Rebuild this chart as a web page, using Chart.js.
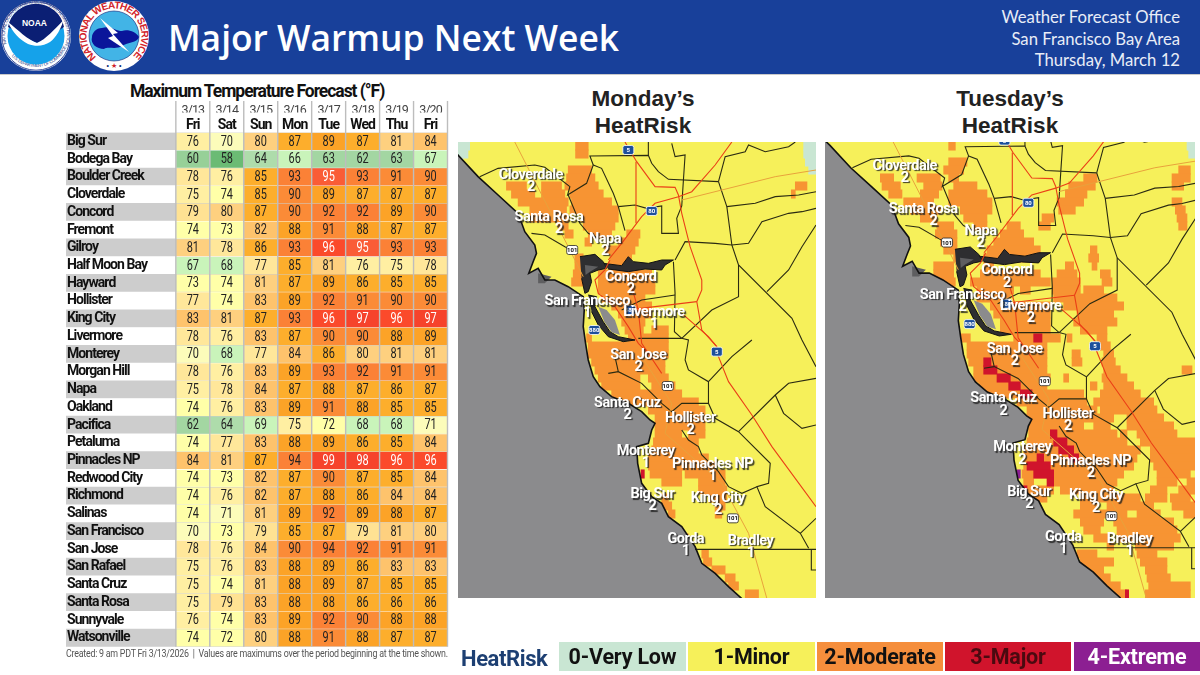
<!DOCTYPE html>
<html>
<head>
<meta charset="utf-8">
<title>Major Warmup Next Week</title>
<script src="https://cdn.jsdelivr.net/npm/chart.js@4"></script>
<style>
  html, body { margin: 0; padding: 0; background: #fff; }
  body { width: 1200px; height: 675px; position: relative; overflow: hidden; }
  .abs { position: absolute; white-space: nowrap; }
  canvas { position: absolute; }
  #banner { left: 0; top: 0; width: 1200px; height: 74px; background: #18409a; border-bottom: 1px solid #c9c9c9; }
  #headline { left: 168px; top: 13px; font: 600 35.4px/48px "Open Sans"; color: #fff; }
  .office { right: 20px; font: 400 16.7px/20px Lato; color: #e8edf7; }
  .mapTitle { width: 300px; text-align: center; font: 700 22.5px/27px "Liberation Sans"; color: #222; }
  #tableTitle { left: 130px; top: 81px; font: 700 17.5px/20px Roboto; letter-spacing: -1.05px; color: #111; }
  #footnote { left: 66px; top: 647px; font: 400 10.2px/13px Roboto; letter-spacing: -0.27px; color: #555; transform: scaleX(0.87); transform-origin: left top; }
  #riskWord { left: 461px; top: 645px; font: 700 22px/28px Roboto; letter-spacing: -0.4px; color: #1d3f72; }
  .riskBox { top: 642px; height: 29px; text-align: center; font: 700 21.5px/29px Roboto; letter-spacing: -0.2px; }
</style>
</head>
<body>
<div class="abs" id="banner"></div>
<svg class="abs" style="left:0;top:0" width="155" height="74" viewBox="0 0 155 74">
  <defs>
    <path id="noaaTop" d="M6.5,44 A31,31 0 1 1 65.5,44"/>
    <path id="noaaLow" d="M4,42 A33,33 0 0 0 68,42"/>
    <path id="nwsRing" d="M96.3,57 A27.5,27.5 0 1 1 131.7,57"/>
  </defs>
  <circle cx="36" cy="36" r="35" fill="#fff"/>
  <circle cx="36" cy="36" r="34.2" fill="none" stroke="#3b4f9c" stroke-width="1"/>
  <text font-family="Liberation Sans" font-size="4.6" fill="#26367e"><textPath href="#noaaTop" textLength="118">NATIONAL OCEANIC AND ATMOSPHERIC ADMINISTRATION</textPath></text>
  <text font-family="Liberation Sans" font-size="4.4" fill="#26367e"><textPath href="#noaaLow" startOffset="16" textLength="66">U.S. DEPARTMENT OF COMMERCE</textPath></text>
  <circle cx="36" cy="36" r="28.5" fill="#15a2ea"/>
  <path d="M8,27 A28.5,28.5 0 0 1 64,27 C56,32 46,40 37,43 C28,40 17,31 8,27Z" fill="#0b1f74"/>
  <path d="M8,22 C18,30 28,40 37,43 C46,39 54,30 63.5,20 C60,33 52,41 50,42 C44,46 36,47 28,44 C20,40 12,32 8,22Z" fill="#fff"/>
  <text x="34.5" y="26" text-anchor="middle" font-family="Liberation Sans" font-weight="700" font-size="8.5" fill="#fff">NOAA</text>

  <circle cx="114" cy="36" r="35" fill="#fff"/>
  <text font-family="Liberation Sans" font-weight="700" font-size="10" fill="#d2232a"><textPath href="#nwsRing" textLength="132">NATIONAL WEATHER SERVICE</textPath></text>
  <circle cx="114" cy="36" r="25" fill="#42b4e6" stroke="#0b1f74" stroke-width=".6"/>
  <path d="M92,37 C92,33 96,28 102,28 C110,25 116,31 122,31 C128,29 136,32 139,37 C137,43 128,42 122,46 C116,50 108,46 104,49 C97,49 90,44 92,37Z" fill="#0a159a"/>
  <path d="M100,18 L118,33 L113,34 L129,52 L108,38 L113,36Z" fill="#fff"/>
  <text x="114" y="68" text-anchor="middle" font-family="Liberation Sans" font-size="7"><tspan fill="#0b1f74">&#8226;</tspan> <tspan fill="#d2232a">&#9733;</tspan> <tspan fill="#0b1f74">&#8226;</tspan></text>
</svg>
<div class="abs" id="headline">Major Warmup Next Week</div>
<div class="abs office" style="top:7px">Weather Forecast Office</div>
<div class="abs office" style="top:29px">San Francisco Bay Area</div>
<div class="abs office" style="top:50px">Thursday, March 12</div>

<div class="abs" id="tableTitle">Maximum Temperature Forecast (&deg;F)</div>
<canvas id="tempTable" style="left:60px;top:80px;width:395px;height:585px"></canvas>
<div class="abs" id="footnote">Created: 9 am PDT Fri 3/13/2026&nbsp; |&nbsp; Values are maximums over the period beginning at the time shown.</div>

<div class="abs mapTitle" style="left:493px;top:85px">Monday&rsquo;s<br>HeatRisk</div>
<div class="abs mapTitle" style="left:860px;top:85px">Tuesday&rsquo;s<br>HeatRisk</div>
<div style="position:absolute;left:458px;top:142px;width:358px;height:456px"><canvas id="mondayMap"></canvas></div>
<div style="position:absolute;left:825px;top:142px;width:370px;height:456px"><canvas id="tuesdayMap"></canvas></div>

<div class="abs" id="riskWord">HeatRisk</div>
<div class="abs riskBox" style="left:559px;width:127px;background:#c9e6d3;color:#111">0-Very Low</div>
<div class="abs riskBox" style="left:688px;width:127px;background:#f6f05a;color:#111">1-Minor</div>
<div class="abs riskBox" style="left:817px;width:126px;background:#f58e3c;color:#111">2-Moderate</div>
<div class="abs riskBox" style="left:945px;width:126px;background:#d0142c;color:#4a0a10">3-Major</div>
<div class="abs riskBox" style="left:1074px;width:126px;background:#8c1f92;color:#fff">4-Extreme</div>

<script>
// table data
var dates = ['3/13','3/14','3/15','3/16','3/17','3/18','3/19','3/20'];
var days = ['Fri','Sat','Sun','Mon','Tue','Wed','Thu','Fri'];
var cities = ['Big Sur','Bodega Bay','Boulder Creek','Cloverdale','Concord','Fremont','Gilroy','Half Moon Bay','Hayward','Hollister','King City','Livermore','Monterey','Morgan Hill','Napa','Oakland','Pacifica','Petaluma','Pinnacles NP','Redwood City','Richmond','Salinas','San Francisco','San Jose','San Rafael','Santa Cruz','Santa Rosa','Sunnyvale','Watsonville'];
var temps = [
  [76,70,80,87,89,87,81,84],
  [60,58,64,66,63,62,63,67],
  [78,76,85,93,95,93,91,90],
  [75,74,85,90,89,87,87,87],
  [79,80,87,90,92,92,89,90],
  [74,73,82,88,91,88,87,87],
  [81,78,86,93,96,95,93,93],
  [67,68,77,85,81,76,75,78],
  [73,74,81,87,89,86,85,85],
  [77,74,83,89,92,91,90,90],
  [83,81,87,93,96,97,96,97],
  [78,76,83,87,90,90,88,89],
  [70,68,77,84,86,80,81,81],
  [78,76,83,89,93,92,91,91],
  [75,78,84,87,88,87,86,87],
  [74,76,83,89,91,88,85,85],
  [62,64,69,75,72,68,68,71],
  [74,77,83,88,89,86,85,84],
  [84,81,87,94,99,98,96,96],
  [74,73,82,87,90,87,85,84],
  [74,76,82,87,88,86,84,84],
  [74,71,81,89,92,89,88,87],
  [70,73,79,85,87,79,81,80],
  [78,76,84,90,94,92,91,91],
  [75,76,83,88,89,86,83,83],
  [75,74,81,88,89,87,85,85],
  [75,79,83,88,88,86,86,86],
  [76,74,83,89,92,90,88,88],
  [74,72,80,88,91,88,87,87]
];
var tempStops = [58,60,63,65,69,71,74,76,78,79,81,84,87,89,91,94,95,96,99];
var tempColors = ['#6bbb74','#97d098','#a3d6a2','#aedcab','#c9f4ba','#fcfcba','#ffffa8','#ffefa2','#ffe79a','#ffe293','#fed07f','#fec36c','#fdae2c','#fca327','#fb8b37','#fb8136','#fa5c36','#fb4a2b','#f6432c'];

// heatrisk cells per row of the map grid: [row, from, to, from, to...]
var mondayVeryLow = [[0,10,45,1045,1082],[1,10,40,1045,1082],[2,10,25,1050,1082],[3,1060,1082]];
var mondayModerate = [
  [0,362,400],[1,362,400],[3,340,410],[4,335,420],[5,155,215,260,320,330,430,1020,1055],[6,170,240,260,330,345,445,1008,1020],
  [7,190,340,350,470],[8,225,335,345,490],[9,225,340,380,490],[10,310,340,385,480],[11,330,355,400,470,515,555],[12,390,410,490,550],
  [13,450,540],[14,360,385,465,530],[15,360,385,460,520],[16,355,395,430,590],[17,350,385,430,600],[18,430,600],[19,440,570],
  [20,470,590],[21,490,590],[22,500,570],[23,510,565,590,640],[24,395,410,520,640],[25,400,640],[26,400,640],[27,410,630],[28,420,630],
  [29,430,555,580,640],[30,440,555,590,660],[31,470,680],[32,500,730],[33,580,750],[34,600,750],[35,600,750],[36,600,680,700,750],
  [37,595,730],[38,590,730],[39,580,760],[40,580,780],[41,585,680,690,810],[42,620,680,730,810],[43,730,815],[44,620,640,760,815],
  [45,620,650,780,810],[46,640,660,780,800],[49,690,700],[51,740,760],[52,745,770],[53,770,810],[54,810,840],[55,820,850],[56,870,910]
];
var mondayMajor = [[41,558,568]];
var mondayExtreme = [];

var tuesdayVeryLow = [[0,1100,1124],[1,1105,1124]];
var tuesdayModerate = [
  [0,385,405],[2,385,440],[3,370,430,1075,1110],[4,180,220,290,360,385,415,790,830,1055,1110],[5,185,240,310,365,400,470,745,825,1055,1090],
  [6,205,245,300,355,385,500,735,800],[7,250,340,385,515,710,790,1055,1085],[8,270,360,420,515,715,765,1065,1095],[9,300,350,430,500,665,700,1070,1100],
  [10,350,400,460,500,560,600,655,690,1075,1100],[11,345,410,540,610],[12,360,410,520,640],[13,370,410,500,660,810,830],[14,400,420,490,540,570,640,805,835],
  [15,340,400,490,520,735,760,815,830],[16,340,400,480,660,710,770,840,870],[17,345,405,450,690,695,780,845,875],[18,370,400,470,580,600,630,695,780,790,850],
  [19,470,570,700,890],[20,510,690,730,910],[21,520,690,770,880],[22,540,690,760,890],[23,540,690,780,860],[24,400,450,580,720,740,755,830,860],
  [25,440,680,840,870],[26,440,680,755,780,850,880],[27,445,680,755,785,845,885],[28,460,680,850,900,1085,1115],[29,460,690,730,745,845,920],
  [30,475,680,810,830,850,940],[31,490,790,840,960],[32,590,800,820,1000],[33,620,830,840,1010],[34,620,880,920,1030],[35,625,790,820,870,920,1060],
  [36,625,890,900,920,950,1070],[37,620,920,960,1124],[38,610,960,990,1124],[39,610,950,990,1124],[40,610,940,1000,1124],[41,605,910,1010,1110],
  [42,610,640,700,890,1010,1070,1100,1124],[43,620,700,720,880,990,1040,1075,1124],[44,640,680,780,960,975,1040,1050,1110],[45,780,830,860,1000,1055,1124],
  [46,760,920,950,1020,1090,1124],[47,780,850,880,1060],[48,790,840,890,1070],[49,820,870,890,1080],[50,860,880,945,1060],[51,770,830,950,1010],
  [52,780,880,960,1040],[53,800,850,975,1040],[54,820,870,980,1050],[55,840,900,985,1110],[56,880,920,975,1110]
];
var tuesdayMajor = [
  [24,640,665],[27,490,512],[28,490,530],[29,530,570],[30,565,600],[31,600,635],[36,690,710],[37,700,740],[38,715,760],
  [39,650,670,745,775],[40,620,690],[41,640,700],[42,680,700],[43,605,620],[56,915,925]
];
var tuesdayExtreme = [[41,590,600]];

// geography in map units
var coast = [[-20,195],[10,225],[70,290],[130,345],[190,400],[210,455],[240,495],[245,520],[235,545],[222,580],[250,565],[270,600],[300,600],[340,620],[385,650],[388,690],[385,740],[392,790],[400,840],[415,890],[435,920],[470,950],[520,970],[560,995],[585,1020],[600,1030],[590,1050],[580,1090],[545,1100],[548,1150],[560,1210],[590,1250],[620,1270],[640,1310],[680,1340],[720,1400],[740,1450],[780,1480],[820,1520],[860,1556]];
var oceanCorner = [[-20,1556]];
var bays = [
  [[375,530],[420,523],[445,545],[455,565],[430,570],[405,580],[410,605],[400,635],[390,640],[380,595]],
  [[445,550],[500,557],[520,530],[535,545],[580,550],[620,540],[655,540],[630,555],[620,570],[570,567],[520,575],[460,567]],
  [[400,645],[425,650],[420,680],[445,725],[465,755],[490,770],[540,780],[505,785],[460,770],[430,735],[410,695]]
];
var northBayShallow = [[390,555],[430,560],[405,575],[392,585]];
var southBay = [[430,680],[455,690],[480,720],[495,765],[470,757],[448,725]];
var offshoreShade = [[250,580],[290,590],[270,610],[250,610]];
var countyLines = [
  [[75,290],[130,265],[240,255],[270,262],[345,320],[338,345],[395,310],[415,255],[440,265],[475,340],[490,380],[510,452]],
  [[415,255],[405,228],[580,226],[590,250],[610,275],[640,298],[790,305]],
  [[580,186],[580,226]],
  [[650,190],[660,230],[690,225],[685,300]],
  [[790,305],[810,230],[870,215],[880,195],[930,215],[1000,200],[1020,186]],
  [[790,305],[815,380],[830,495],[850,555],[1010,715],[1040,780],[1082,860]],
  [[815,380],[900,370],[960,350],[1030,345],[1082,335]],
  [[830,495],[880,490],[920,425],[1000,400],[1040,395],[1082,385]],
  [[1082,435],[1040,500],[1000,570],[935,635]],
  [[850,555],[850,650],[770,690],[680,775]],
  [[655,545],[660,640],[658,755],[680,775],[700,780],[690,840],[700,870],[760,905],[760,970],[780,1015],[850,1055],[945,1150],[940,1210],[905,1220],[930,1280],[1035,1360],[1060,1405]],
  [[660,540],[690,485],[780,490],[830,495]],
  [[490,380],[540,375],[575,385],[620,378],[620,460],[670,460],[665,415],[680,378],[685,300]],
  [[340,345],[375,430],[400,460],[430,475]],
  [[230,460],[270,465],[330,500],[350,510]],
  [[500,690],[560,660],[660,645]],
  [[550,775],[680,775]],
  [[460,880],[490,875],[560,910],[620,970],[650,995],[680,970],[760,970]],
  [[480,830],[490,875]],
  [[760,905],[830,830],[890,780]],
  [[850,1055],[960,945],[1000,910],[1082,895]],
  [[960,945],[985,1000],[1040,1045],[1082,1035]],
  [[1035,1360],[1082,1315]],
  [[720,1408],[1082,1408]],
  [[1068,1408],[1068,1470],[1082,1470]],
  [[680,1050],[700,1080],[730,1100],[740,1125],[790,1175],[820,1220],[860,1240],[905,1220]]
];
var mainRoads = [
  [[510,186],[545,245],[600,320],[660,322],[670,345],[680,400],[705,500],[740,600],[740,630],[725,665],[740,750],[785,800],[790,830],[820,905],[890,1005],[950,1100],[1082,1280]],
  [[543,245],[543,430]],
  [[830,186],[780,255],[710,335],[670,350],[600,370],[560,410],[500,490],[460,540]],
  [[465,540],[450,570],[420,600],[430,640],[480,680],[520,740],[550,790],[590,830]],
  [[530,620],[550,690],[560,790],[620,880]],
  [[515,690],[600,680],[725,665]],
  [[680,700],[760,770],[785,800]]
];
var minorRoads = [
  [[180,186],[340,500],[385,590]],
  [[680,360],[960,290],[1082,270]],
  [[560,830],[650,970],[630,1060],[800,1210],[880,1360],[935,1556]]
];

var placeNames = ['Cloverdale','Santa Rosa','Napa','Concord','San Francisco','Livermore','San Jose','Santa Cruz','Hollister','Monterey','Pinnacles NP','Big Sur','King City','Gorda','Bradley'];
var placeX = [228,282,450,527,397,597,550,517,706,572,772,592,788,692,886];
var placeY = [285,413,477,593,665,698,825,970,1015,1114,1154,1244,1255,1378,1384];
var riskX = [228,312,450,527,397,597,550,517,706,572,772,592,788,692,886];
var mondayRisk = [2,2,2,2,1,1,2,2,2,1,1,2,2,1,1];
var tuesdayRisk = [2,2,2,2,2,2,2,2,2,2,2,2,2,1,1];

var shieldX = [520,590,352,525,418,785,638,833];
var shieldY = [210,393,510,690,750,815,918,1315];
var shieldText = ['5','80','101','580','880','5','101','101'];

function tempColor(t) {
  for (var i = 0; i < tempStops.length; i++) {
    if (t <= tempStops[i]) return tempColors[i];
  }
  return tempColors[tempColors.length - 1];
}

// ---- the forecast table ----
var tableLeft = -3.235;
var rowHeight = 514.2 / 29;

var stripeData = cities.map(function(c, r) { return {x: [tableLeft, 8], y: r + 0.5}; });
var cellData = [];
temps.forEach(function(row, r) {
  row.forEach(function(t, d) {
    cellData.push({x: [d + 0.02, d + 0.98], y: r + 0.5, t: t});
  });
});

var columnCenters = dates.map(function(d, i) { return i + 0.5; });
var rowCenters = cities.map(function(c, i) { return i + 0.5; });

var tablePlugin = {
  id: 'tablePlugin',
  beforeDraw: function(chart) {
    // no condensed font here, so squeeze the letters
    chart.ctx.letterSpacing = '-0.95px';
  },
  afterDatasetsDraw: function(chart) {
    var ctx = chart.ctx;
    var x = chart.scales.x;
    ctx.save();
    ctx.strokeStyle = '#bdbdbd';
    ctx.lineWidth = 1.4;
    for (var d = 0; d <= 8; d++) {
      var px = x.getPixelForValue(d);
      ctx.beginPath();
      ctx.moveTo(px, 21);
      ctx.lineTo(px, chart.chartArea.bottom);
      ctx.stroke();
    }
    // values inside the cells
    var meta = chart.getDatasetMeta(0);
    ctx.font = '14px Roboto';
    ctx.letterSpacing = '0px';
    ctx.textAlign = 'center';
    ctx.textBaseline = 'middle';
    meta.data.forEach(function(el, i) {
      var t = cellData[i].t;
      var c = el.getCenterPoint();
      ctx.save();
      ctx.translate(c.x, c.y + 0.7);
      ctx.scale(0.78, 1);
      ctx.fillStyle = t >= 95 ? '#fff' : '#222';
      ctx.fillText(t, 0, 0);
      ctx.restore();
    });
    ctx.restore();
  }
};

new Chart(document.getElementById('tempTable'), {
  type: 'bar',
  data: {
    datasets: [
      {
        data: cellData,
        backgroundColor: cellData.map(function(c) { return tempColor(c.t); }),
        barThickness: rowHeight - 1.2,
        grouped: false,
        order: 1
      },
      {
        data: stripeData,
        backgroundColor: stripeData.map(function(s, r) { return r % 2 == 0 ? '#cdcdcd' : '#ffffff'; }),
        barThickness: rowHeight,
        grouped: false,
        order: 2
      }
    ]
  },
  plugins: [tablePlugin],
  options: {
    indexAxis: 'y',
    responsive: false,
    animation: false,
    events: [],
    layout: {padding: {left: 6, right: 7.5, top: 0, bottom: 18.3}},
    plugins: {legend: {display: false}, tooltip: {enabled: false}},
    scales: {
      x: {
        type: 'linear', position: 'top', min: tableLeft, max: 8, weight: 0,
        grid: {display: false}, border: {display: false},
        afterBuildTicks: function(s) { s.ticks = columnCenters.map(function(v) { return {value: v}; }); },
        afterFit: function(s) { s.height = 20; },
        ticks: {
          autoSkip: false, maxRotation: 0, padding: -9.6,
          color: '#111', font: {family: 'Roboto', size: 14, weight: '700'},
          callback: function(v, i) { return days[i]; }
        }
      },
      xDate: {
        type: 'linear', position: 'top', min: tableLeft, max: 8, weight: 1,
        grid: {display: false}, border: {display: false},
        afterBuildTicks: function(s) { s.ticks = columnCenters.map(function(v) { return {value: v}; }); },
        afterFit: function(s) { s.height = 32.5; },
        ticks: {
          autoSkip: false, maxRotation: 0, padding: -14,
          color: '#444', font: {family: 'Roboto', size: 12.5},
          callback: function(v, i) { return dates[i]; }
        }
      },
      y: {
        type: 'linear', min: 0, max: cities.length, reverse: true, offset: false,
        grid: {display: false}, border: {display: false},
        afterBuildTicks: function(s) { s.ticks = rowCenters.map(function(v) { return {value: v}; }); },
        afterFit: function(s) { s.width = 0; },
        ticks: {
          mirror: true, z: 2, padding: 1, autoSkip: false,
          color: '#111', font: {family: 'Roboto', size: 14, weight: '700'},
          callback: function(v, i) { return cities[i]; }
        }
      }
    }
  }
});

// ---- the two heatrisk maps ----
function toPoints(list) {
  return list.map(function(p) { return {x: p[0], y: p[1]}; });
}

function cellBars(rows) {
  var out = [];
  rows.forEach(function(r) {
    for (var i = 1; i < r.length; i += 2) {
      out.push({x: [r[i], r[i + 1]], y: r[0] + 0.5});
    }
  });
  return out;
}

function cellDataset(rows, color, order) {
  return {
    type: 'bar', indexAxis: 'y', xAxisID: 'xCell', yAxisID: 'yRow', grouped: false,
    data: cellBars(rows), backgroundColor: color, barThickness: 8.4, order: order
  };
}

function geoDataset(list, opts) {
  var ds = {
    type: 'scatter', showLine: true, xAxisID: 'xGeo', yAxisID: 'yGeo',
    data: toPoints(list), pointRadius: 0, borderWidth: 1, fill: false, tension: 0
  };
  Object.keys(opts).forEach(function(k) { ds[k] = opts[k]; });
  return ds;
}

var mapLabelPlugin = {
  id: 'mapLabelPlugin',
  afterDatasetsDraw: function(chart, args, opts) {
    var ctx = chart.ctx;
    var xs = chart.scales.xGeo;
    var ys = chart.scales.yGeo;
    ctx.save();
    shieldText.forEach(function(txt, i) {
      var px = xs.getPixelForValue(shieldX[i]);
      var py = ys.getPixelForValue(shieldY[i]);
      var isUs = txt == '101';
      ctx.fillStyle = isUs ? '#fff' : '#1d4f9c';
      ctx.strokeStyle = isUs ? '#222' : '#fff';
      ctx.lineWidth = 0.8;
      ctx.beginPath();
      ctx.roundRect(px - 5.5, py - 4.5, 11, 9, 2);
      ctx.fill();
      ctx.stroke();
      ctx.fillStyle = isUs ? '#111' : '#fff';
      ctx.font = '700 6px Roboto';
      ctx.textAlign = 'center';
      ctx.textBaseline = 'middle';
      ctx.fillText(txt, px, py + 0.5);
    });
    ctx.shadowColor = 'rgba(30,30,30,0.85)';
    ctx.shadowOffsetX = 1.5;
    ctx.shadowOffsetY = 1.5;
    ctx.shadowBlur = 1;
    ctx.fillStyle = '#fff';
    ctx.font = '700 14.5px Roboto';
    ctx.letterSpacing = '-0.5px';
    placeNames.forEach(function(name, i) {
      ctx.fillText(name, xs.getPixelForValue(placeX[i]), ys.getPixelForValue(placeY[i]));
      ctx.fillText(opts.risks[i], xs.getPixelForValue(riskX[i]), ys.getPixelForValue(placeY[i] + 36));
    });
    ctx.restore();
  }
};

function drawMap(id, size, veryLow, moderate, major, extreme, risks, cellRange, geoXRange, geoYRange) {
  var canvas = document.getElementById(id);
  canvas.style.width = size[0] + 'px';
  canvas.style.height = size[1] + 'px';
  var sets = [
    cellDataset(extreme, '#8c1f92', 8),
    cellDataset(major, '#d0142c', 9),
    cellDataset(moderate, '#f79433', 10),
    cellDataset(veryLow, '#c9e6d3', 11),
    geoDataset(coast, {borderColor: '#111', borderWidth: 1.6, order: 2}),
    geoDataset(coast.concat(oceanCorner), {borderWidth: 0, backgroundColor: '#8b8b8d', fill: 'shape', order: 7}),
    geoDataset(southBay, {borderWidth: 0, backgroundColor: '#8b8b8d', fill: 'shape', order: 5}),
    geoDataset(northBayShallow, {borderWidth: 0, backgroundColor: '#5e5e60', fill: 'shape', order: 5}),
    geoDataset(offshoreShade, {borderWidth: 0, backgroundColor: '#5e5e60', fill: 'shape', order: 6})
  ];
  bays.forEach(function(b) {
    sets.push(geoDataset(b, {borderColor: '#111', backgroundColor: '#2e2e30', fill: 'shape', order: 6}));
  });
  countyLines.forEach(function(l) {
    sets.push(geoDataset(l, {borderColor: '#2a2a12', borderWidth: 1.1, order: 4}));
  });
  minorRoads.forEach(function(l) {
    sets.push(geoDataset(l, {borderColor: '#e8a23c', order: 3.5}));
  });
  mainRoads.forEach(function(l) {
    sets.push(geoDataset(l, {borderColor: '#ea3f17', borderWidth: 1.1, order: 3}));
  });
  new Chart(canvas, {
    type: 'scatter',
    data: {datasets: sets},
    plugins: [mapLabelPlugin],
    options: {
      responsive: false,
      animation: false,
      events: [],
      layout: {padding: 0},
      plugins: {legend: {display: false}, tooltip: {enabled: false}, mapLabelPlugin: {risks: risks}},
      scales: {
        xCell: {type: 'linear', display: false, min: cellRange[0], max: cellRange[1], offset: false},
        yRow: {type: 'linear', display: false, min: 0, max: 57, reverse: true, offset: false},
        xGeo: {type: 'linear', display: false, min: geoXRange[0], max: geoXRange[1]},
        yGeo: {type: 'linear', display: false, min: geoYRange[0], max: geoYRange[1], reverse: true}
      }
    }
  });
  canvas.parentNode.style.background = '#f6f05a';
}

drawMap('mondayMap', [358, 456], mondayVeryLow, mondayModerate, mondayMajor, mondayExtreme, mondayRisk, [10, 1082], [10, 1082], [186, 1554]);
drawMap('tuesdayMap', [370, 456], tuesdayVeryLow, tuesdayModerate, tuesdayMajor, tuesdayExtreme, tuesdayRisk, [14, 1124], [-5.2, 1077.7], [214.2, 1555.9]);
</script>
</body>
</html>
